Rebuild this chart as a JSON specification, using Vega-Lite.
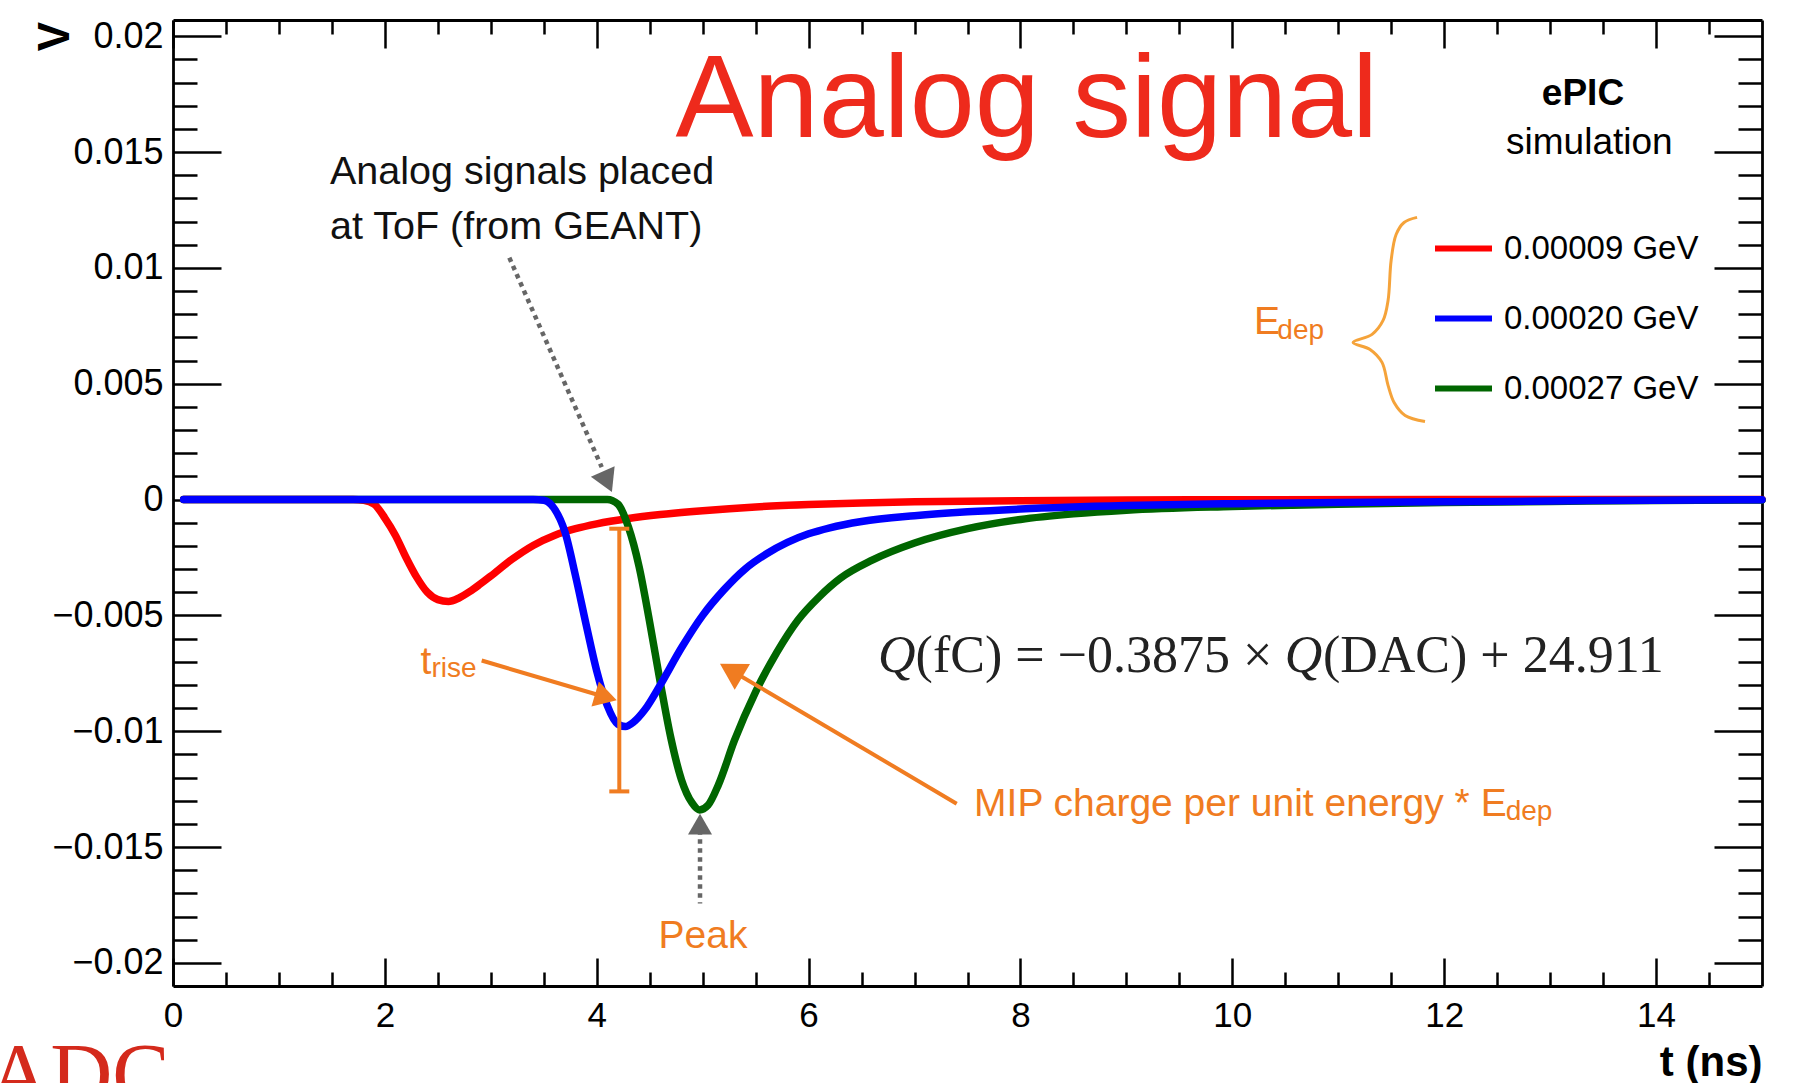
{
  "$schema": "https://vega.github.io/schema/vega-lite/v6.json",
  "width": 1589,
  "height": 966,
  "autosize": {"type": "none"},
  "padding": {"left": 173, "top": 20, "right": 46, "bottom": 97},
  "background": "white",
  "config": {
    "font": "Liberation Sans",
    "view": {"stroke": null},
    "axis": {"grid": false}
  },
  "datasets": {
    "signals": [
      {"t": 0.1, "v": 0, "s": "0.00009 GeV"},
      {"t": 1.0, "v": 0, "s": "0.00009 GeV"},
      {"t": 1.7, "v": 0, "s": "0.00009 GeV"},
      {"t": 1.8, "v": -0.00003, "s": "0.00009 GeV"},
      {"t": 1.9, "v": -0.0002, "s": "0.00009 GeV"},
      {"t": 2.0, "v": -0.0008, "s": "0.00009 GeV"},
      {"t": 2.1, "v": -0.00155, "s": "0.00009 GeV"},
      {"t": 2.2, "v": -0.0025, "s": "0.00009 GeV"},
      {"t": 2.3, "v": -0.00335, "s": "0.00009 GeV"},
      {"t": 2.4, "v": -0.004, "s": "0.00009 GeV"},
      {"t": 2.5, "v": -0.00432, "s": "0.00009 GeV"},
      {"t": 2.6, "v": -0.0044, "s": "0.00009 GeV"},
      {"t": 2.7, "v": -0.00425, "s": "0.00009 GeV"},
      {"t": 2.8, "v": -0.00398, "s": "0.00009 GeV"},
      {"t": 2.9, "v": -0.00365, "s": "0.00009 GeV"},
      {"t": 3.0, "v": -0.0033, "s": "0.00009 GeV"},
      {"t": 3.2, "v": -0.00258, "s": "0.00009 GeV"},
      {"t": 3.4, "v": -0.00198, "s": "0.00009 GeV"},
      {"t": 3.6, "v": -0.00155, "s": "0.00009 GeV"},
      {"t": 3.8, "v": -0.00126, "s": "0.00009 GeV"},
      {"t": 4.0, "v": -0.00105, "s": "0.00009 GeV"},
      {"t": 4.3, "v": -0.00082, "s": "0.00009 GeV"},
      {"t": 4.6, "v": -0.00065, "s": "0.00009 GeV"},
      {"t": 5.0, "v": -0.00048, "s": "0.00009 GeV"},
      {"t": 5.5, "v": -0.00032, "s": "0.00009 GeV"},
      {"t": 6.0, "v": -0.00022, "s": "0.00009 GeV"},
      {"t": 6.5, "v": -0.00015, "s": "0.00009 GeV"},
      {"t": 7.0, "v": -0.0001, "s": "0.00009 GeV"},
      {"t": 8.0, "v": -0.00005, "s": "0.00009 GeV"},
      {"t": 9.0, "v": -0.00002, "s": "0.00009 GeV"},
      {"t": 10.0, "v": -0.00001, "s": "0.00009 GeV"},
      {"t": 12.0, "v": 0, "s": "0.00009 GeV"},
      {"t": 15.0, "v": 0, "s": "0.00009 GeV"},

      {"t": 0.1, "v": 0, "s": "0.00027 GeV"},
      {"t": 4.1, "v": 0, "s": "0.00027 GeV"},
      {"t": 4.2, "v": -0.0002, "s": "0.00027 GeV"},
      {"t": 4.3, "v": -0.0012, "s": "0.00027 GeV"},
      {"t": 4.4, "v": -0.0029, "s": "0.00027 GeV"},
      {"t": 4.5, "v": -0.0053, "s": "0.00027 GeV"},
      {"t": 4.6, "v": -0.0079, "s": "0.00027 GeV"},
      {"t": 4.7, "v": -0.0103, "s": "0.00027 GeV"},
      {"t": 4.8, "v": -0.0121, "s": "0.00027 GeV"},
      {"t": 4.9, "v": -0.0131, "s": "0.00027 GeV"},
      {"t": 4.97, "v": -0.0134, "s": "0.00027 GeV"},
      {"t": 5.05, "v": -0.0132, "s": "0.00027 GeV"},
      {"t": 5.15, "v": -0.0123, "s": "0.00027 GeV"},
      {"t": 5.3, "v": -0.0104, "s": "0.00027 GeV"},
      {"t": 5.5, "v": -0.0083, "s": "0.00027 GeV"},
      {"t": 5.7, "v": -0.0066, "s": "0.00027 GeV"},
      {"t": 5.9, "v": -0.0052, "s": "0.00027 GeV"},
      {"t": 6.1, "v": -0.0042, "s": "0.00027 GeV"},
      {"t": 6.3, "v": -0.0034, "s": "0.00027 GeV"},
      {"t": 6.6, "v": -0.00262, "s": "0.00027 GeV"},
      {"t": 7.0, "v": -0.00188, "s": "0.00027 GeV"},
      {"t": 7.5, "v": -0.00126, "s": "0.00027 GeV"},
      {"t": 8.0, "v": -0.00086, "s": "0.00027 GeV"},
      {"t": 8.5, "v": -0.00062, "s": "0.00027 GeV"},
      {"t": 9.0, "v": -0.00046, "s": "0.00027 GeV"},
      {"t": 10.0, "v": -0.0003, "s": "0.00027 GeV"},
      {"t": 11.0, "v": -0.0002, "s": "0.00027 GeV"},
      {"t": 12.0, "v": -0.00013, "s": "0.00027 GeV"},
      {"t": 13.0, "v": -0.00008, "s": "0.00027 GeV"},
      {"t": 14.0, "v": -0.00004, "s": "0.00027 GeV"},
      {"t": 15.0, "v": -0.00002, "s": "0.00027 GeV"},

      {"t": 0.1, "v": 0, "s": "0.00020 GeV"},
      {"t": 3.4, "v": 0, "s": "0.00020 GeV"},
      {"t": 3.5, "v": -0.00003, "s": "0.00020 GeV"},
      {"t": 3.6, "v": -0.0004, "s": "0.00020 GeV"},
      {"t": 3.7, "v": -0.0014, "s": "0.00020 GeV"},
      {"t": 3.8, "v": -0.0033, "s": "0.00020 GeV"},
      {"t": 3.9, "v": -0.0054, "s": "0.00020 GeV"},
      {"t": 4.0, "v": -0.0074, "s": "0.00020 GeV"},
      {"t": 4.1, "v": -0.0089, "s": "0.00020 GeV"},
      {"t": 4.2, "v": -0.0097, "s": "0.00020 GeV"},
      {"t": 4.27, "v": -0.0098, "s": "0.00020 GeV"},
      {"t": 4.35, "v": -0.0096, "s": "0.00020 GeV"},
      {"t": 4.45, "v": -0.0091, "s": "0.00020 GeV"},
      {"t": 4.6, "v": -0.008, "s": "0.00020 GeV"},
      {"t": 4.8, "v": -0.0064, "s": "0.00020 GeV"},
      {"t": 5.0, "v": -0.005, "s": "0.00020 GeV"},
      {"t": 5.2, "v": -0.0039, "s": "0.00020 GeV"},
      {"t": 5.4, "v": -0.003, "s": "0.00020 GeV"},
      {"t": 5.6, "v": -0.00235, "s": "0.00020 GeV"},
      {"t": 5.8, "v": -0.00185, "s": "0.00020 GeV"},
      {"t": 6.0, "v": -0.00148, "s": "0.00020 GeV"},
      {"t": 6.2, "v": -0.00122, "s": "0.00020 GeV"},
      {"t": 6.5, "v": -0.00095, "s": "0.00020 GeV"},
      {"t": 7.0, "v": -0.0007, "s": "0.00020 GeV"},
      {"t": 7.5, "v": -0.00053, "s": "0.00020 GeV"},
      {"t": 8.0, "v": -0.00041, "s": "0.00020 GeV"},
      {"t": 9.0, "v": -0.00026, "s": "0.00020 GeV"},
      {"t": 10.0, "v": -0.00018, "s": "0.00020 GeV"},
      {"t": 11.0, "v": -0.00013, "s": "0.00020 GeV"},
      {"t": 12.0, "v": -0.0001, "s": "0.00020 GeV"},
      {"t": 13.0, "v": -0.00006, "s": "0.00020 GeV"},
      {"t": 14.0, "v": -0.00003, "s": "0.00020 GeV"},
      {"t": 15.0, "v": -0.00001, "s": "0.00020 GeV"}
    ],
    "brace": [
      {"i": 1, "t": 11.744, "v": 0.01218},
      {"i": 2, "t": 11.621, "v": 0.01196},
      {"i": 3, "t": 11.546, "v": 0.01144},
      {"i": 4, "t": 11.499, "v": 0.01032},
      {"i": 5, "t": 11.47, "v": 0.00859},
      {"i": 6, "t": 11.423, "v": 0.00773},
      {"i": 7, "t": 11.319, "v": 0.00713},
      {"i": 8, "t": 11.14, "v": 0.00678},
      {"i": 9, "t": 11.3, "v": 0.00648},
      {"i": 10, "t": 11.413, "v": 0.00592},
      {"i": 11, "t": 11.47, "v": 0.00493},
      {"i": 12, "t": 11.527, "v": 0.00419},
      {"i": 13, "t": 11.631, "v": 0.00363},
      {"i": 14, "t": 11.819, "v": 0.00337}
    ]
  },
  "resolve": {"axis": {"x": "independent", "y": "independent"}},
  "layer": [
    {
      "data": {"name": "signals"},
      "mark": {"type": "line", "strokeWidth": 7.5, "interpolate": "monotone", "strokeCap": "round", "strokeJoin": "round"},
      "encoding": {
        "x": {
          "field": "t", "type": "quantitative",
          "scale": {"domain": [0, 15], "nice": false, "zero": false},
          "axis": {
            "orient": "bottom",
            "values": [0, 0.5, 1, 1.5, 2, 2.5, 3, 3.5, 4, 4.5, 5, 5.5, 6, 6.5, 7, 7.5, 8, 8.5, 9, 9.5, 10, 10.5, 11, 11.5, 12, 12.5, 13, 13.5, 14, 14.5],
            "tickSize": {"condition": {"test": "datum.value % 2 === 0", "value": -28}, "value": -14},
            "tickWidth": 2.5, "tickColor": "#000",
            "domainColor": "#000", "domainWidth": 2.8,
            "labelExpr": "datum.value % 2 === 0 ? format(datum.value, 'd') : ''",
            "labelFontSize": 35, "labelColor": "#000", "labelPadding": 40,
            "labelOverlap": false, "labelFlush": false,
            "title": "t (ns)", "titleFontSize": 42, "titleFontWeight": "bold", "titleColor": "#000",
            "titleX": 1589, "titleY": 89, "titleAlign": "right", "titleBaseline": "alphabetic"
          }
        },
        "y": {
          "field": "v", "type": "quantitative",
          "scale": {"domain": [-0.021, 0.0207], "nice": false, "zero": false},
          "axis": {
            "orient": "left",
            "values": [-0.02, -0.019, -0.018, -0.017, -0.016, -0.015, -0.014, -0.013, -0.012, -0.011, -0.01, -0.009, -0.008, -0.007, -0.006, -0.005, -0.004, -0.003, -0.002, -0.001, 0, 0.001, 0.002, 0.003, 0.004, 0.005, 0.006, 0.007, 0.008, 0.009, 0.01, 0.011, 0.012, 0.013, 0.014, 0.015, 0.016, 0.017, 0.018, 0.019, 0.02],
            "tickSize": {"condition": {"test": "abs(datum.value * 200 - round(datum.value * 200)) < 1e-6", "value": -48}, "value": -24},
            "tickWidth": 2.5, "tickColor": "#000",
            "domainColor": "#000", "domainWidth": 2.8,
            "labelExpr": "abs(datum.value * 200 - round(datum.value * 200)) < 1e-6 ? format(datum.value, '~g') : ''",
            "labelFontSize": 36, "labelColor": "#000", "labelPadding": 58,
            "labelOverlap": false, "labelFlush": false,
            "title": "V", "titleFontSize": 44, "titleFontWeight": "bold", "titleColor": "#000",
            "titleX": -105, "titleY": 16, "titleAlign": "center", "titleBaseline": "alphabetic"
          }
        },
        "color": {
          "field": "s", "type": "nominal",
          "scale": {"domain": ["0.00009 GeV", "0.00020 GeV", "0.00027 GeV"], "range": ["#ff0000", "#0000ff", "#006600"]},
          "legend": {
            "title": null, "orient": "none", "legendX": 1259, "legendY": 197,
            "symbolType": "stroke", "symbolSize": 3249, "symbolStrokeWidth": 6,
            "labelFontSize": 33, "labelColor": "#000", "labelOffset": 9, "labelLimit": 400,
            "rowPadding": 21, "padding": 0
          }
        }
      }
    },
    {
      "data": {"values": [{"t": 8.06, "v": 0.01567, "label": "Analog signal"}]},
      "mark": {"type": "text", "fontSize": 117, "color": "#ee2a1c", "align": "center", "baseline": "alphabetic"},
      "encoding": {
        "x": {
          "field": "t", "type": "quantitative",
          "axis": {
            "orient": "top",
            "values": [0, 0.5, 1, 1.5, 2, 2.5, 3, 3.5, 4, 4.5, 5, 5.5, 6, 6.5, 7, 7.5, 8, 8.5, 9, 9.5, 10, 10.5, 11, 11.5, 12, 12.5, 13, 13.5, 14, 14.5],
            "tickSize": {"condition": {"test": "datum.value % 2 === 0", "value": -28}, "value": -14},
            "tickWidth": 2.5, "tickColor": "#000",
            "domainColor": "#000", "domainWidth": 2.8,
            "labels": false, "title": null
          }
        },
        "y": {
          "field": "v", "type": "quantitative",
          "axis": {
            "orient": "right",
            "values": [-0.02, -0.019, -0.018, -0.017, -0.016, -0.015, -0.014, -0.013, -0.012, -0.011, -0.01, -0.009, -0.008, -0.007, -0.006, -0.005, -0.004, -0.003, -0.002, -0.001, 0, 0.001, 0.002, 0.003, 0.004, 0.005, 0.006, 0.007, 0.008, 0.009, 0.01, 0.011, 0.012, 0.013, 0.014, 0.015, 0.016, 0.017, 0.018, 0.019, 0.02],
            "tickSize": {"condition": {"test": "abs(datum.value * 200 - round(datum.value * 200)) < 1e-6", "value": -48}, "value": -24},
            "tickWidth": 2.5, "tickColor": "#000",
            "domainColor": "#000", "domainWidth": 2.8,
            "labels": false, "title": null
          }
        },
        "text": {"field": "label"}
      }
    },
    {
      "data": {"values": [{"t": 13.31, "v": 0.01705, "label": "ePIC"}]},
      "mark": {"type": "text", "fontSize": 37, "fontWeight": "bold", "color": "#000", "align": "center", "baseline": "alphabetic"},
      "encoding": {
        "x": {"field": "t", "type": "quantitative", "axis": null},
        "y": {"field": "v", "type": "quantitative", "axis": null},
        "text": {"field": "label"}
      }
    },
    {
      "data": {"values": [{"t": 13.37, "v": 0.0149, "label": "simulation"}]},
      "mark": {"type": "text", "fontSize": 37, "color": "#000", "align": "center", "baseline": "alphabetic"},
      "encoding": {
        "x": {"field": "t", "type": "quantitative", "axis": null},
        "y": {"field": "v", "type": "quantitative", "axis": null},
        "text": {"field": "label"}
      }
    },
    {
      "data": {"values": [
        {"t": 1.482, "v": 0.01363, "label": "Analog signals placed"},
        {"t": 1.482, "v": 0.01126, "label": "at ToF (from GEANT)"}
      ]},
      "mark": {"type": "text", "fontSize": 39.5, "color": "#111", "align": "left", "baseline": "alphabetic"},
      "encoding": {
        "x": {"field": "t", "type": "quantitative", "axis": null},
        "y": {"field": "v", "type": "quantitative", "axis": null},
        "text": {"field": "label"}
      }
    },
    {
      "data": {"values": [
        {"t": 3.175, "v": 0.01044, "t2": 4.047, "v2": 0.0014},
        {"t": 4.975, "v": -0.01428, "t2": 4.975, "v2": -0.01744}
      ]},
      "mark": {"type": "rule", "color": "#666", "strokeWidth": 4.5, "strokeDash": [4.5, 4.5]},
      "encoding": {
        "x": {"field": "t", "type": "quantitative", "axis": null},
        "y": {"field": "v", "type": "quantitative", "axis": null},
        "x2": {"field": "t2"},
        "y2": {"field": "v2"}
      }
    },
    {
      "data": {"values": [{"t": 4.1, "v": 0.000764}]},
      "mark": {"type": "point", "shape": "triangle-down", "angle": 336, "size": 676, "filled": true, "color": "#666", "opacity": 1},
      "encoding": {
        "x": {"field": "t", "type": "quantitative", "axis": null},
        "y": {"field": "v", "type": "quantitative", "axis": null}
      }
    },
    {
      "data": {"values": [{"t": 4.975, "v": -0.01401}]},
      "mark": {"type": "point", "shape": "triangle-up", "size": 576, "filled": true, "color": "#666", "opacity": 1},
      "encoding": {
        "x": {"field": "t", "type": "quantitative", "axis": null},
        "y": {"field": "v", "type": "quantitative", "axis": null}
      }
    },
    {
      "data": {"values": [
        {"t": 2.914, "v": -0.00695, "t2": 4.025, "v2": -0.00845},
        {"t": 7.398, "v": -0.01313, "t2": 5.326, "v2": -0.00753},
        {"t": 4.213, "v": -0.00126, "t2": 4.213, "v2": -0.0126}
      ]},
      "mark": {"type": "rule", "color": "#f07c21", "strokeWidth": 4},
      "encoding": {
        "x": {"field": "t", "type": "quantitative", "axis": null},
        "y": {"field": "v", "type": "quantitative", "axis": null},
        "x2": {"field": "t2"},
        "y2": {"field": "v2"}
      }
    },
    {
      "data": {"values": [{"t": 4.213, "v": -0.00126}, {"t": 4.213, "v": -0.0126}]},
      "mark": {"type": "point", "shape": "stroke", "size": 400, "filled": false, "stroke": "#f07c21", "strokeWidth": 4, "opacity": 1},
      "encoding": {
        "x": {"field": "t", "type": "quantitative", "axis": null},
        "y": {"field": "v", "type": "quantitative", "axis": null}
      }
    },
    {
      "data": {"values": [{"t": 4.087, "v": -0.00853}]},
      "mark": {"type": "point", "shape": "triangle-right", "angle": 16.5, "size": 676, "filled": true, "color": "#f07c21", "opacity": 1},
      "encoding": {
        "x": {"field": "t", "type": "quantitative", "axis": null},
        "y": {"field": "v", "type": "quantitative", "axis": null}
      }
    },
    {
      "data": {"values": [{"t": 5.269, "v": -0.00737}]},
      "mark": {"type": "point", "shape": "triangle-right", "angle": 210.6, "size": 900, "filled": true, "color": "#f07c21", "opacity": 1},
      "encoding": {
        "x": {"field": "t", "type": "quantitative", "axis": null},
        "y": {"field": "v", "type": "quantitative", "axis": null}
      }
    },
    {
      "data": {"name": "brace"},
      "mark": {"type": "line", "color": "#f5a33a", "strokeWidth": 3, "interpolate": "catmull-rom"},
      "encoding": {
        "x": {"field": "t", "type": "quantitative", "axis": null},
        "y": {"field": "v", "type": "quantitative", "axis": null},
        "order": {"field": "i", "type": "quantitative"}
      }
    },
    {
      "data": {"values": [
        {"t": 7.562, "v": -0.01364, "label": "MIP charge per unit energy * E"},
        {"t": 4.583, "v": -0.01938, "label": "Peak"},
        {"t": 10.205, "v": 0.00713, "label": "E"},
        {"t": 2.337, "v": -0.00752, "label": "t"}
      ]},
      "mark": {"type": "text", "fontSize": 39, "color": "#f07c21", "align": "left", "baseline": "alphabetic"},
      "encoding": {
        "x": {"field": "t", "type": "quantitative", "axis": null},
        "y": {"field": "v", "type": "quantitative", "axis": null},
        "text": {"field": "label"}
      }
    },
    {
      "data": {"values": [
        {"t": 12.58, "v": -0.01385, "label": "dep"},
        {"t": 10.425, "v": 0.00695, "label": "dep"},
        {"t": 2.44, "v": -0.00764, "label": "rise"}
      ]},
      "mark": {"type": "text", "fontSize": 28, "color": "#f07c21", "align": "left", "baseline": "alphabetic"},
      "encoding": {
        "x": {"field": "t", "type": "quantitative", "axis": null},
        "y": {"field": "v", "type": "quantitative", "axis": null},
        "text": {"field": "label"}
      }
    },
    {
      "data": {"values": [
        {"t": 7.01, "v": -0.00746, "label": "(fC) = −0.3875 × "},
        {"t": 10.855, "v": -0.00746, "label": "(DAC) + 24.911"}
      ]},
      "mark": {"type": "text", "font": "Liberation Serif", "fontSize": 52, "color": "#222", "align": "left", "baseline": "alphabetic"},
      "encoding": {
        "x": {"field": "t", "type": "quantitative", "axis": null},
        "y": {"field": "v", "type": "quantitative", "axis": null},
        "text": {"field": "label"}
      }
    },
    {
      "data": {"values": [
        {"t": 6.655, "v": -0.00746, "label": "Q"},
        {"t": 10.495, "v": -0.00746, "label": "Q"}
      ]},
      "mark": {"type": "text", "font": "Liberation Serif", "fontStyle": "italic", "fontSize": 52, "color": "#222", "align": "left", "baseline": "alphabetic"},
      "encoding": {
        "x": {"field": "t", "type": "quantitative", "axis": null},
        "y": {"field": "v", "type": "quantitative", "axis": null},
        "text": {"field": "label"}
      }
    },
    {
      "data": {"values": [{"t": -1.746, "v": -0.02607, "label": "ADC"}]},
      "mark": {"type": "text", "font": "Liberation Serif", "fontSize": 86, "color": "#d42a1c", "align": "left", "baseline": "alphabetic"},
      "encoding": {
        "x": {"field": "t", "type": "quantitative", "axis": null},
        "y": {"field": "v", "type": "quantitative", "axis": null},
        "text": {"field": "label"}
      }
    }
  ]
}
